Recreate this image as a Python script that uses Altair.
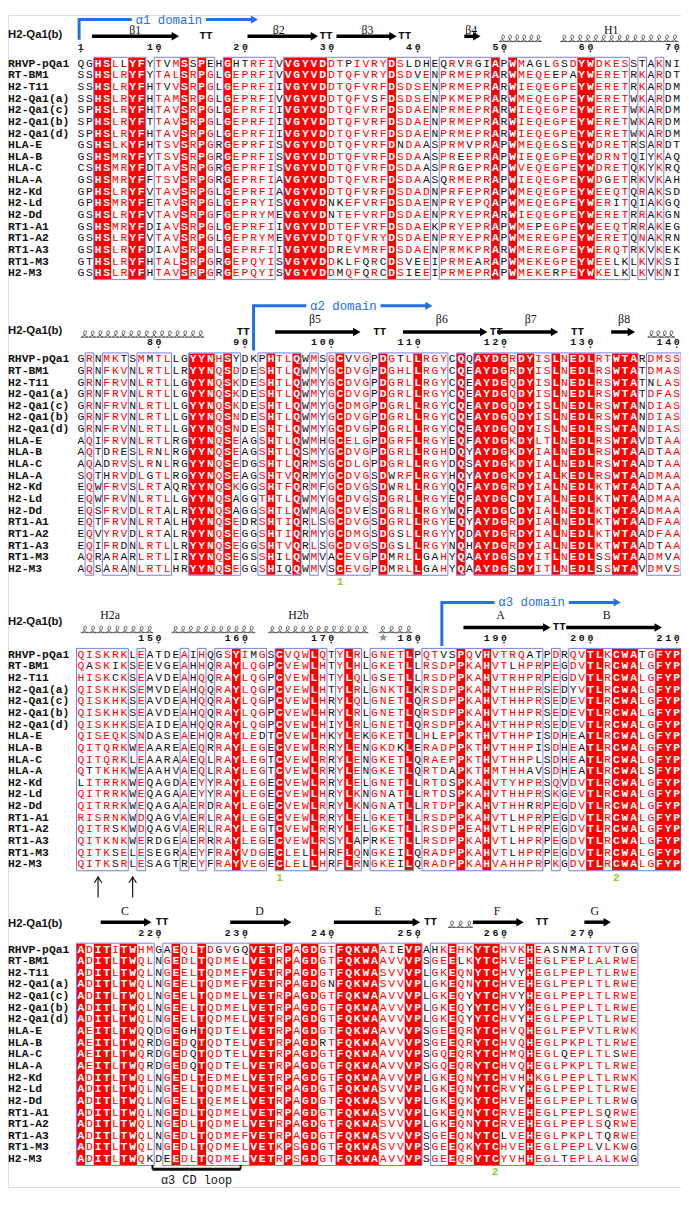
import altair as alt
import pandas as pd
import numpy as np

NAMES = ["RHVP-pQa1", "RT-BM1", "H2-T11", "H2-Qa1(a)", "H2-Qa1(c)", "H2-Qa1(b)", "H2-Qa1(d)",
         "HLA-E", "HLA-B", "HLA-C", "HLA-A", "H2-Kd", "H2-Ld", "H2-Dd",
         "RT1-A1", "RT1-A2", "RT1-A3", "RT1-M3", "H2-M3"]
REFERENCE_NAME = "H2-Qa1(b)"

BLOCK_1 = [
    "QGHSLLYFYTVMSSPEHGHTRFIVVGYVDDTPIVRYDSLDHEQRVRGIAPWMAGLGSDYWDKESSTAKNI",
    "SSHSLRYFYTALSRPGLGEPRFIVVGYVDDTQFVRYDSDVENPRMEPRARWMEQEEPAYWERETRKARDT",
    "SSHSLRYFHTVVSRPGLGEPRFIIVGYVDDTQFVRFDSDSENPRMEPRARWIEQEGPEYWERETRKARDM",
    "SSHSLRYFHTAMSRPGLGEPRFIVVGYVDDTQFVSFDSDSENPKMEPRARWMEQEGPEYWERETWKARDM",
    "SPHSLRYFHTAVSRPGLGEPRFIIVGYVDDTQFVRFDSDAENPRMEPRARWIEQEGPEYWERETWKARDM",
    "SPHSLRYFTTAVSRPGLGEPRFIIVGYVDDTQFVRFDSDAENPRMEPRARWIEQEGPEYWERETWKARDM",
    "SPHSLRYFHTAVSRPGLGEPRFIIVGYVDDTQFVRFDSDAENPRMEPRARWIEQEGPEYWERETWKARDM",
    "GSHSLKYFHTSVSRPGRGEPRFISVGYVDDTQFVRFDNDAASPRMVPRAPWMEQEGSEYWDRETRSARDT",
    "GSHSMRYFYTSVSRPGRGEPRFISVGYVDDTQFVRFDSDAASPREEPRAPWIEQEGPEYWDRNTQIYKAQ",
    "CSHSMRYFDTAVSRPGRGEPRFISVGYVDDTQFVRFDSDAASPRGEPRAPWVEQEGPEYWDRETQKYKRQ",
    "GSHSMRYFFTSVSRPGRGEPRFIAVGYVDDTQFVRFDSDAASQRMEPRAPWIEQEGPEYWDGETRKVKAH",
    "GPHSLRYFVTAVSRPGLGEPRFIAVGYVDDTQFVRFDSDADNPRFEPRAPWMEQEGPEYWEEQTQRAKSD",
    "GPHSMRYFETAVSRPGLGEPRYISVGYVDNKEFVRFDSDAENPRYEPQAPWMEQEGPEYWERITQIAKGQ",
    "GSHSLRYFVTAVSRPGFGEPRYMEVGYVDNTEFVRFDSDAENPRYEPRARWIEQEGPEYWERETRRAKGN",
    "GSHSMRYFDIAVSRPGLGEPRFIIVGYVDDTEFVRFDSDAEKPRYEPRAPWMEPEGPEYWEEQTRRAKEG",
    "GSHSLRYFVTAVSRPGLGEPRYMEVGYVDDTQFVRYDSDAENPRYEPRAPWMEREGPEYWERETQNAKRN",
    "GSHSLRYFDIAVSRPGLGEPRFIIVGYVDDREVMRFDSDAENPRMKPRARWMEREGPEYWERQTRKVKEK",
    "GTHSLRYFHTALSRPGRGEPQYISVGYVDDKLFQRCDSVEEIPRMEARAPWMEKEGPEYWEELKLKVKSI",
    "GSHSLRYFHTAVSRPGRGEPQYISVGYVDDMQFQRCDSIEEIPRMEPRAPWMEKERPEYWKELKLKVKNI",
]
BLOCK_2 = [
    "GRNMKTSMMTLLGYYNHSYDKPHTLQWMSGCVVGPDGTLLRGYCQQAYDGRDYISLNEDLRTWTARDMSS",
    "GRNFKVNLRTLLRYYNQSDDESHTLQWMYGCDVGPDGHLLRGYCQEAYDGRDYISLNEDLRSWTATDMAS",
    "GRNFRVNLRTLLGYYNQSKDESHTLQWMYGCDVGPDGRLLRGYCQEAYDGQDYISLNEDLRSWTATNLAS",
    "GRNFRVNLRTLLGYYNQSKDESHTLQWMYGCDVGPDGRLLRGYCQEAYDGQDYISLNEDLRSWTATDFAS",
    "GRNFRVNLRTLLGYYNQSKDESHTLQWMYGCDMGPDGRLLRGYCQEAYDGQDYISLNEDLRSWTANDIAS",
    "GRNFRVNLRTLLGYYNQSNDESHTLQWMYGCDVGPDGRLLRGYCQEAYDGQDYISLNEDLRSWTANDIAS",
    "GRNFRVNLRTLLGYYNQSNDESHTLQWMYGCDVGPDGRLLRGYCQEAYDGQDYISLNEDLRSWTANDIAS",
    "AQIFRVNLRTLRGYYNQSEAGSHTLQWMHGCELGPDGRFLRGYEQFAYDGKDYLTLNEDLRSWTAVDTAA",
    "AQTDRESLRNLRGYYNQSEAGSHTLQSMYGCDVGPDGRLLRGHDQYAYDGKDYIALNEDLRSWTAADTAA",
    "AQADRVSLRNLRGYYNQSEDGSHTLQRMSGCDLGPDGRLLRGYDQSAYDGKDYIALNEDLRSWTAADTAA",
    "SQTHRVDLGTLRGYYNQSEAGSHTVQRMYGCDVGSDWRFLRGYHQYAYDGKDYIALKEDLRSWTAADMAA",
    "EQWFRVSLRTAQRYYNQSKGGSHTFQRMFGCDVGSDWRLLRGYQQFAYDGRDYIALNEDLKTWTAADTAA",
    "EQWFRVNLRTLLGYYNQSAGGTHTLQWMYGCDVGSDGRLLRGYEQFAYDGCDYIALNEDLKTWTAADMAA",
    "EQSFRVDLRTALRYYNQSAGGSHTLQWMAGCDVESDGRLLRGYWQFAYDGCDYIALNEDLKTWTAADMAA",
    "EQTFRVNLRTALHYYNQSEDRSHTIQRLSGCDVGSDGRLLRGYEQYAYDGRDYIALNEDLKTWTAADFAA",
    "EQVYRVDLRTALRYYNQSEGGSHTIQRMYGCDMGSDGSLLRGYYQDAYDGRDYIALNEDLKTWTAADFAA",
    "EQIFRDNLRTLLRYYNQSEGGSHTVQRLSGCDVGSDGSLLRGYNQHAYDGRDYIALNEDLKTWTAADTAA",
    "AQRARARLRTLIRYYNQSEGSSHILQWMVACEVGPDMRLLGAHYQAAYDGSDYITLNEDLSSWTAADMVA",
    "AQSARANLRTLHRYYNQSEGGSHIQQWMVSCEVGPDMRLLGAHYQAAYDGSDYITLNEDLSSWTAVDMVS",
]
BLOCK_3 = [
    "QISKRKLEATDEAIHQGSYIMGSCVQWLQTYLRLGNETLPQTVSPQVHVTRQATPDRQVTLKCWATGFYP",
    "QASKIKSEEVGEAHHQRAYLQGPCVEWLHTYLHLGKETLLRSDPPKAHVTLHPRPEGDVTLRCWALGFYP",
    "HISKCKSEAVDEAHQQRAYLQGPCVEWLHTYLQLGSETLLRSDPPKAHVTRHPRPEGDVTLRCWALGFYP",
    "QISKHKSEMVDEAHQQRAYLQGPCVEWLHTYLRLGNKTLKRSDPPKAHVTHHPRSEDYVTLRCWALGFYP",
    "QISKHKSEAVDEAHQQRAYLQGPCVEWLHRYLQLGNETLQRSDPPKAHVTHHPRSEDEVTLRCWALGFYP",
    "QISKHKSEAVDEAHQQRAYLQGPCVEWLHRYLRLGNETLQRSDPPKAHVTHHPRSEDEVTLRCWALGFYP",
    "QISKHKSEAIDEAHQQRAYLQGPCVEWLHIYLRLGNETLQRSDPPKAHVTHHPRSEDEVTLRCWALGFYP",
    "QISEQKSNDASEAEHQRAYLEDTCVEWLHKYLEKGKETLLHLEPPKTHVTHHPISDHEATLRCWALGFYP",
    "QITQRKWEAAREAEQRRAYLEGECVEWLRRYLENGKDKLERADPPKTHVTHHPISDHEATLRCWALGFYP",
    "QITQRKLEAARAAEQLRAYLEGTCVEWLRRYLENGKETLQRAEPPKTHVTHHPLSDHEATLRCWALGFYP",
    "QTTKHKWEAAHVAEQLRAYLEGTCVEWLRRYLENGKETLQRTDAPKTHMTHHAVSDHEATLRCWALSFYP",
    "LITRRKWEQAGDAEYYRAYLEGECVEWLRRYLELGNETLLRTDSPKAHVTYHPRSQVDVTLRCWALGFYP",
    "QITRRKWEQAGAAEYYRAYLEGECVEWLHRYLKNGNATLLRTDSPKAHVTHHPRSKGEVTLRCWALGFYP",
    "QITRRKWEQAGAAERDRAYLEGECVEWLRRYLKNGNATLLRTDPPKAHVTHHRRPEGDVTLRCWALGFYP",
    "RISRNKWDQAGVAERLRAYLEGECVEWLRRYLELGKETLLRSDPPKAHVTLHPRPEGDVTLRCWALGFYP",
    "QITRSKWDQAGVAERLRAYLEGTCVEWLRRYLELGKETLLRSDPPEAHVTLHPRPEGDVTLRCWALGFYP",
    "QITKNKWERDGEAERRRAYLEGECVEWLRSYLAPRKETLLRSDPPKAHVTLHPRPEGDVTLRCWALGFYP",
    "QITKSELESEGRAEYFRAYVDGECLELLHRFLQNGKEILQRADPPKAHVTLHPRPEGDVTLRCWALGFYP",
    "QITKSRLESAGTREYFRAYVEGECLELLHRFLRNGKEILQRADPPKAHVAHHPRPKGDVTLRCWALGFYP",
]
BLOCK_4 = [
    "ADITITWHMGAEQLTDGVGQVETRPAGDGTFQKWAAIEVPAHKEHKYTCHVKHEASNMAITVTGG",
    "ADITLTWQLNGEDLTQDMELVETRPAGDGTFQKWAAVVVPSGEELKYTCHVEHEGLPEPLALRWE",
    "ADITLTWQLNGEELTQDMEFVETRPAGDGTFQKWASVVVPLGKEQNYTCHVYHEGLPEPLTLRWE",
    "ADITLTWQLNGEELTQDMEFVETRPAGDGNFQKWASVVVPLGKEQNYTCHVEHEGLPEPLTLRWE",
    "ADITLTWQLNGEELTQDMELVETRPAGDGTFQKWAAVVVPLGKEQYYTCHVYHEGLPEPLTLRWE",
    "ADITLTWQLNGEELTQDMELVETRPAGDGTFQKWAAVVVPLGKEQYYTCHVYHEGLPEPLTLRWE",
    "ADITLTWQLNGEELTQDMELVETRPAGDGTFQKWAAVVVPLGKEQYYTCHVYHEGLPEPLTLRWE",
    "AEITLTWQQDGEGHTQDTELVETRPAGDGTFQKWAAVVVPSGEEQRYTCHVQHEGLPEPVTLRWK",
    "AEITLTWQRDGEDQTQDTELVETRPAGDRTFQKWAAVVVPSGEEQRYTCHVQHEGLPKPLTLRWE",
    "AEITLTWQRDGEDQTQDTELVETRPAGDGTFQKWAAVVVPSGQEQRYTCHMQHEGLQEPLTLSWE",
    "AEITLTWQRDGEDQTQDTELVETRPAGDGTFQKWAAVVVPSGQEQRYTCHVQHEGLPKPLTLRWE",
    "ADITLTWQLNGEDLTEDMELVETRPAGDGTFQKWAAVVVPLGKEQNYTCHVHHKGLPEPLTLRWK",
    "ADITLTWQLNGEELTQDMELVETRPAGDGTFQKWASVVVPLGKEQNYTCRVYHEGLPEPLTLRWE",
    "ADITLTWQLNGEELTQEMELVETRPAGDGTFQKWASVVVPLGKEQKYTCHVEHEGLPEPLTLRWG",
    "ADITLTWQLNGEDLTQDMELVETRPAGDGTFQKWASVVVPLGKEQNYTCRVEHEGLPEPLSQRWE",
    "ADITLTWQLNGEDLTQDMELVETRPAGDGTFQKWASVVVPLGKEQNYTCRVEHEGLPEPLSQRWE",
    "ADITLTWQLNGEDLTQDMEFVETRPAGDGTFQKWASVVVPSGEEQNYTCLVEHEGLPKPLTQRWE",
    "ADITLTWQLNGEDLTQDMELVETKPSGDGTFQKWASVVVPSGEEQKYTCHVEHEGLPEPLVLKWG",
    "ADITLTWQKDEEDLTQDMELVETRPSGDGTFQKWAAVVVPSGEEQRYTCYVHHEGLTEPLALKWG",
]
BLOCKS = [BLOCK_1, BLOCK_2, BLOCK_3, BLOCK_4]
FIRST_RESIDUE = [1, 71, 141, 211]

# secondary structure of H2-Qa1(b), in residue numbers
STRAND_NAMES = ["β1", "β2", "β3", "β4", "β5", "β6", "β7", "β8", "A", "B", "C", "D", "E", "F", "G"]
STRAND_FROM = [2.3, 20.3, 30.6, 45.4, 93.5, 108.3, 119.2, 132.4, 185.3, 197.2, 213.3, 228.3, 240.3, 256.4, 269.3]
STRAND_TO = [12.4, 28.5, 37.6, 47.3, 103.4, 118.1, 126.3, 135.2, 195.4, 208.3, 219.2, 235.4, 250.3, 262.3, 272.4]
STRAND_LABEL_AT = [7.3, 23.9, 34.2, 46.2, 98.1, 112.8, 123.1, 133.9, 189.6, 201.9, 216.1, 231.7, 245.4, 259.2, 270.5]
TURN_AT = [15.5, 29.4, 38.5, 89.8, 105.6, 119.1, 128.5, 196.4, 220.4, 251.5, 264.4]
HELIX_NAMES = ["", "H1", "", "", "H2a", "", "H2b", "", ""]
HELIX_FROM = [49.4, 56.5, 71.0, 136.6, 141.0, 151.5, 162.7, 175.5, 253.5]
HELIX_TO = [54.4, 70.2, 85.3, 139.8, 149.4, 161.2, 174.3, 179.4, 256.4]
HELIX_LABEL_AT = [0, 62.4, 0, 0, 144.4, 0, 166.2, 0, 0]
DOMAIN_NAMES = ["α1 domain", "α2 domain", "α3 domain"]
DOMAIN_AT = [0.8, 91.0, 182.8]
TICKS = [1, 10, 20, 30, 40, 50, 60, 70, 80, 90, 100, 110, 120, 130, 140, 150, 160, 170,
         180, 190, 200, 210, 220, 230, 240, 250, 260, 270]
STAR_AT = [176]
DISULFIDE_LABELS = ["1", "1", "2", "2"]
DISULFIDE_AT = [101, 164, 203, 259]
SITE_ARROW_AT = [143, 147]
CD_LOOP_NAME = "α3 CD loop"
CD_LOOP_FROM, CD_LOOP_TO = 219.3, 229.5

# ---------------- layout (line units: one alignment row) ----------------
W, H = 681, 1186
ROW_PX = 11.78
Y_MAX = H / ROW_PX
X_MIN, X_MAX = -8.43, 69.49
ROW0 = [4.185, 29.58, 54.96, 80.28]
NUM_REL, DOT_REL = -1.45, -1.05
HELIX_REL, ARROW_REL = -2.2, -2.35
LABEL_REL = [-2.92, -3.45, -3.42, -3.35]
HEADER_REL = [-2.5, -2.44, -2.8, -2.18]
DOMAIN_TOP = [-3.79, -4.6, -4.5]
DOMAIN_BOTTOM = [-2.05, -0.75, -0.75]
NROW = len(NAMES)

RED = "#ff0000"
FRAME = "#7a7ae4"
BLUE = "#2370e3"
GREEN = "#86d431"
MONO = "Liberation Mono"
COIL = "M-1,1 C-0.2,0.7 0.7,0 0.5,-0.6 C0.3,-1.1 -0.45,-0.9 -0.3,-0.1 C-0.15,0.6 0.4,1 1,1"


def block_of(r):
    b = 0
    for i, f in enumerate(FIRST_RESIDUE):
        if r >= f:
            b = i
    return b


def place(r, rel, b=None):
    if b is None:
        b = block_of(r)
    return r - FIRST_RESIDUE[b], ROW0[b] + rel


GROUPS = ["STA", "NEQK", "NHQK", "QHRK", "MILV", "MILF", "HY", "FYW", "DE"]


def similar(a, b):
    return a == b or any(a in g and b in g for g in GROUPS)


def runs(flags):
    out, start = [], None
    for i, f in enumerate(list(flags) + [False]):
        if f and start is None:
            start = i
        if not f and start is not None:
            out.append((start, i - 1))
            start = None
    return out


res_rows, red_rows, frame_rows = [], [], []
for b, block in enumerate(BLOCKS):
    n = max(len(s) for s in block)
    boxed, ident = [], []
    for c in range(n):
        col = [s[c] if c < len(s) else "-" for s in block]
        letters = set(col)
        if len(letters) == 1:
            cls_col = "id"
            sims = [True] * len(col)
        else:
            best, best_n = None, -1
            for cand in sorted(letters):
                k = sum(similar(x, cand) for x in col)
                if k > best_n:
                    best, best_n = cand, k
            sims = [similar(x, best) for x in col]
            cls_col = "box" if best_n / len(col) >= 0.7 else "none"
        boxed.append(cls_col != "none")
        ident.append(cls_col == "id")
        for r, aa in enumerate(col):
            if cls_col == "id":
                cls = "id"
            elif cls_col == "box" and sims[r]:
                cls = "sim"
            else:
                cls = "no"
            res_rows.append(dict(x=c, y=ROW0[b] + r, aa=aa, cls=cls))
    for s, e in runs(ident):
        red_rows.append(dict(x0=s - 0.5, x1=e + 0.5, y0=ROW0[b] - 0.5, y1=ROW0[b] + NROW - 0.5))
    for s, e in runs(boxed):
        frame_rows.append(dict(x0=s - 0.5, x1=e + 0.5, y0=ROW0[b] - 0.55, y1=ROW0[b] + NROW - 0.45))

res = pd.DataFrame(res_rows)
reds = pd.DataFrame(red_rows)
frames = pd.DataFrame(frame_rows)

names = pd.DataFrame([dict(name=nm, y=ROW0[b] + r) for b in range(4) for r, nm in enumerate(NAMES)])
headers = pd.DataFrame([dict(name=REFERENCE_NAME, y=ROW0[b] + HEADER_REL[b]) for b in range(4)])

digit_rows, dot_rows = [], []
for t in TICKS:
    b = block_of(t)
    x, y = place(t, NUM_REL, b)
    s = str(t)
    for k, ch in enumerate(s):
        digit_rows.append(dict(x=x - (len(s) - 1 - k), y=y, t=ch))
    dot_rows.append(dict(x=x, y=ROW0[b] + DOT_REL))
digits = pd.DataFrame(digit_rows)
dots = pd.DataFrame(dot_rows)

shaft_rows, head_rows, slabel_rows = [], [], []
for nm, a, e, lab in zip(STRAND_NAMES, STRAND_FROM, STRAND_TO, STRAND_LABEL_AT):
    b = block_of((a + e) / 2)
    x0, y = place(a, ARROW_REL, b)
    x1, _ = place(e, ARROW_REL, b)
    shaft_rows.append(dict(x0=x0, x1=x1 - 0.55, y=y))
    head_rows.append(dict(x=x1 - 0.45, y=y))
    lx, ly = place(lab, LABEL_REL[b], b)
    slabel_rows.append(dict(x=lx, y=ly, t=nm))
shafts = pd.DataFrame(shaft_rows)
heads = pd.DataFrame(head_rows)

turn_rows = []
for t in TURN_AT:
    x, y = place(t, ARROW_REL)
    turn_rows.append(dict(x=x, y=y, t="TT"))
turns = pd.DataFrame(turn_rows)

coil_rows, coil_base = [], []
for nm, a, e, lab in zip(HELIX_NAMES, HELIX_FROM, HELIX_TO, HELIX_LABEL_AT):
    b = block_of((a + e) / 2)
    x0, y = place(a, HELIX_REL, b)
    x1, _ = place(e, HELIX_REL, b)
    k = int(round((x1 - x0) / 0.9))
    for xx in np.linspace(x0 + 0.45, x1 - 0.45, max(k, 1)):
        coil_rows.append(dict(x=xx, y=y))
    coil_base.append(dict(x0=x0, x1=x1, y=y + 0.3))
    if nm:
        lx, ly = place(lab, LABEL_REL[b], b)
        slabel_rows.append(dict(x=lx, y=ly, t=nm))
coils = pd.DataFrame(coil_rows)
coilbase = pd.DataFrame(coil_base)
slabels = pd.DataFrame(slabel_rows)

dom_v, dom_h, dom_t, dom_head = [], [], [], []
for i, (nm, at) in enumerate(zip(DOMAIN_NAMES, DOMAIN_AT)):
    b = block_of(at + 10)
    x, ytop = place(at, DOMAIN_TOP[i], b)
    ybot = ROW0[b] + DOMAIN_BOTTOM[i]
    dom_v.append(dict(x=x, y0=ytop - 0.12, y1=ybot))
    xc = x + 10.4
    dom_h.append(dict(x0=x, x1=xc - 4.3, y=ytop))
    dom_h.append(dict(x0=xc + 4.3, x1=x + 20.0, y=ytop))
    dom_t.append(dict(x=xc, y=ytop, t=nm))
    dom_head.append(dict(x=x + 20.3, y=ytop))
domv, domh, domt, domhead = map(pd.DataFrame, [dom_v, dom_h, dom_t, dom_head])

green = pd.DataFrame([dict(zip(["x", "y"], place(a, NROW + 0.15)), t=l)
                      for l, a in zip(DISULFIDE_LABELS, DISULFIDE_AT)])
star = pd.DataFrame([dict(zip(["x", "y"], place(a, NUM_REL + 0.05)), t="★") for a in STAR_AT])
site_stem = pd.DataFrame([dict(x=place(a, 0)[0], y0=ROW0[block_of(a)] + NROW + 0.05,
                               y1=ROW0[block_of(a)] + NROW + 1.85) for a in SITE_ARROW_AT])
site_head = pd.DataFrame([dict(x=place(a, 0)[0], y=ROW0[block_of(a)] + NROW + 0.3) for a in SITE_ARROW_AT])

bcd = block_of(CD_LOOP_FROM)
cx0, _ = place(CD_LOOP_FROM, 0, bcd)
cx1, _ = place(CD_LOOP_TO, 0, bcd)
cd_h = pd.DataFrame([dict(x0=cx0, x1=cx1, y=ROW0[bcd] + NROW - 0.13)])
cd_v = pd.DataFrame([dict(x=cx0, y0=ROW0[bcd] + NROW - 0.5, y1=ROW0[bcd] + NROW - 0.13),
                     dict(x=cx1, y0=ROW0[bcd] + NROW - 0.5, y1=ROW0[bcd] + NROW - 0.13)])
cd_t = pd.DataFrame([dict(x=(cx0 + cx1) / 2, y=ROW0[bcd] + NROW + 0.8, t=CD_LOOP_NAME)])

# ---------------- chart ----------------
XS = alt.Scale(domain=[X_MIN, X_MAX], nice=False, zero=False)
YS = alt.Scale(domain=[0, Y_MAX], nice=False, zero=False, reverse=True)


def X(f):
    return alt.X(f"{f}:Q", scale=XS, axis=None)


def Y(f):
    return alt.Y(f"{f}:Q", scale=YS, axis=None)


layers = [
    alt.Chart(reds).mark_rect(color=RED, strokeWidth=0).encode(x=X("x0"), x2="x1", y=Y("y0"), y2="y1"),
    alt.Chart(frames).mark_rect(fillOpacity=0, stroke=FRAME, strokeWidth=1).encode(
        x=X("x0"), x2="x1", y=Y("y0"), y2="y1"),
    alt.Chart(res[res.cls != "id"]).mark_text(font=MONO, fontSize=11.5, baseline="middle", align="center").encode(
        x=X("x"), y=Y("y"), text="aa:N",
        color=alt.Color("cls:N", scale=alt.Scale(domain=["sim", "no"], range=[RED, "#111111"]), legend=None)),
    alt.Chart(res[res.cls == "id"]).mark_text(font=MONO, fontSize=11.5, fontWeight="bold", color="white",
                                               baseline="middle", align="center").encode(
        x=X("x"), y=Y("y"), text="aa:N"),
    alt.Chart(names).mark_text(font=MONO, fontSize=11.5, fontWeight="bold", color="#111111",
                               align="left", baseline="middle").encode(x=alt.value(0), y=Y("y"), text="name:N"),
    alt.Chart(headers).mark_text(font="Liberation Sans", fontSize=11.5, fontWeight="bold", color="#111111",
                                 align="left", baseline="middle").encode(x=alt.value(0), y=Y("y"), text="name:N"),
    alt.Chart(digits).mark_text(font=MONO, fontSize=10, fontWeight="bold", color="#111111",
                                baseline="middle").encode(x=X("x"), y=Y("y"), text="t:N"),
    alt.Chart(dots).mark_circle(size=3, color="#222222", opacity=1).encode(x=X("x"), y=Y("y")),
    alt.Chart(shafts).mark_rule(strokeWidth=3.5, color="black").encode(x=X("x0"), x2="x1", y=Y("y")),
    alt.Chart(heads).mark_point(shape="triangle-right", filled=True, size=75, color="black", opacity=1).encode(
        x=X("x"), y=Y("y")),
    alt.Chart(slabels).mark_text(font="Liberation Serif", fontSize=12, color="#111111", baseline="middle").encode(
        x=X("x"), y=Y("y"), text="t:N"),
    alt.Chart(turns).mark_text(font=MONO, fontSize=11, fontWeight="bold", color="#111111", baseline="middle").encode(
        x=X("x"), y=Y("y"), text="t:N"),
    alt.Chart(coils).mark_point(shape=COIL, filled=False, size=45, strokeWidth=0.8, color="#333333",
                                opacity=1).encode(x=X("x"), y=Y("y")),
    alt.Chart(coilbase).mark_rule(strokeWidth=0.8, color="#444444").encode(x=X("x0"), x2="x1", y=Y("y")),
    alt.Chart(domv).mark_rule(strokeWidth=3, color=BLUE).encode(x=X("x"), y=Y("y0"), y2="y1"),
    alt.Chart(domh).mark_rule(strokeWidth=3, color=BLUE).encode(x=X("x0"), x2="x1", y=Y("y")),
    alt.Chart(domt).mark_text(font=MONO, fontSize=12.5, color=BLUE, baseline="middle").encode(
        x=X("x"), y=Y("y"), text="t:N"),
    alt.Chart(domhead).mark_point(shape="triangle-right", filled=True, size=70, color=BLUE, opacity=1).encode(
        x=X("x"), y=Y("y")),
    alt.Chart(green).mark_text(font=MONO, fontSize=11, fontWeight="bold", color=GREEN, baseline="middle").encode(
        x=X("x"), y=Y("y"), text="t:N"),
    alt.Chart(star).mark_text(font="DejaVu Sans", fontSize=11, color="#8a8a8a", baseline="middle").encode(
        x=X("x"), y=Y("y"), text="t:N"),
    alt.Chart(site_stem).mark_rule(strokeWidth=1.2, color="#111111").encode(x=X("x"), y=Y("y0"), y2="y1"),
    alt.Chart(site_head).mark_point(shape="M-0.8,0.7L0,-0.5L0.8,0.7", filled=False, size=90, strokeWidth=1.2,
                                    color="#111111", opacity=1).encode(x=X("x"), y=Y("y")),
    alt.Chart(cd_h).mark_rule(strokeWidth=3, color="#111111").encode(x=X("x0"), x2="x1", y=Y("y")),
    alt.Chart(cd_v).mark_rule(strokeWidth=2, color="#111111").encode(x=X("x"), y=Y("y0"), y2="y1"),
    alt.Chart(cd_t).mark_text(font=MONO, fontSize=12, color="#111111", baseline="middle").encode(
        x=X("x"), y=Y("y"), text="t:N"),
]

chart = alt.layer(*layers).properties(
    width=W, height=H, padding=0, autosize=alt.AutoSizeParams(type="none")
).configure_view(strokeWidth=0).configure(background="white")

chart.save("out.html", embed_options={"renderer": "svg", "actions": False})
